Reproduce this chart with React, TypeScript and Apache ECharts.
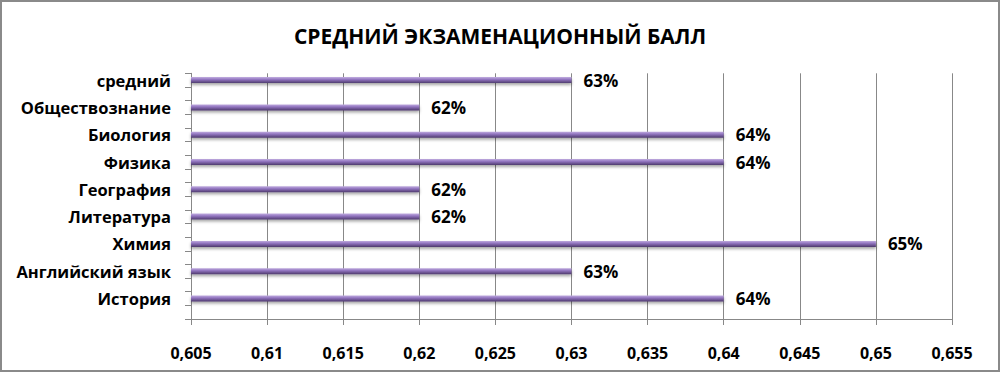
import React, { useEffect, useRef } from "react";
import * as echarts from "echarts";

const categories = [
  "средний",
  "Обществознание",
  "Биология",
  "Физика",
  "География",
  "Литература",
  "Химия",
  "Английский язык",
  "История",
];
const values = [0.63, 0.62, 0.64, 0.64, 0.62, 0.62, 0.65, 0.63, 0.64];
const axisMin = 0.605;
const axisMax = 0.655;
const axisStep = 0.005;
const titleText = "СРЕДНИЙ ЭКЗАМЕНАЦИОННЫЙ БАЛЛ";

const FONT = "'Open Sans', 'Liberation Sans', sans-serif";

export default function App() {
  const ref = useRef<HTMLDivElement>(null);
  useEffect(() => {
    if (!ref.current) return;
    const chart = echarts.init(ref.current, undefined, { renderer: "svg" });
    const fmt = (v: number) => v.toFixed(3).replace(/0+$/, "").replace(".", ",");
    chart.setOption({
      animation: false,
      backgroundColor: "#ffffff",
      title: {
        text: titleText,
        left: "center",
        top: 18,
        textStyle: { fontFamily: FONT, fontSize: 21, fontWeight: "bold", color: "#000" },
      },
      grid: [
        { left: 189, right: 46, top: 71.3, bottom: 51 },
        { left: 189, right: 46, top: 64.45, bottom: 57.85 },
      ],
      xAxis: [
        {
          type: "value",
          gridIndex: 0,
          min: axisMin,
          max: axisMax,
          interval: axisStep,
          axisLine: { show: true, lineStyle: { color: "#888", width: 1 } },
          axisTick: { show: true, length: 6, lineStyle: { color: "#888" } },
          splitLine: { show: true, lineStyle: { color: "#888", width: 1 } },
          axisLabel: {
            margin: 26,
            fontFamily: FONT,
            fontSize: 16,
            fontWeight: "bold",
            color: "#000",
            formatter: fmt,
          },
        },
        {
          type: "value",
          gridIndex: 1,
          min: axisMin,
          max: axisMax,
          interval: axisStep,
          show: false,
        },
      ],
      yAxis: [
        {
          type: "value",
          gridIndex: 0,
          min: 0,
          max: categories.length * 2,
          interval: 1,
          axisLine: { show: true, lineStyle: { color: "#888", width: 1 } },
          axisTick: { show: true, length: 6, lineStyle: { color: "#888" } },
          axisLabel: { show: false },
          splitLine: { show: false },
        },
        {
          type: "category",
          gridIndex: 1,
          data: categories,
          inverse: true,
          axisLine: { show: false },
          axisTick: { show: false },
          axisLabel: {
            margin: 20,
            fontFamily: FONT,
            fontSize: 16.5,
            fontWeight: "bold",
            color: "#000",
          },
        },
      ],
      series: [
        {
          type: "bar",
          xAxisIndex: 1,
          yAxisIndex: 1,
          data: values,
          barWidth: 6,
          itemStyle: {
            color: new echarts.graphic.LinearGradient(0, 0, 0, 1, [
              { offset: 0, color: "#c0acdf" },
              { offset: 0.4, color: "#9275c0" },
              { offset: 1, color: "#4e3a6d" },
            ]),
            shadowColor: "rgba(0,0,0,0.35)",
            shadowBlur: 3,
            shadowOffsetY: 2,
          },
          label: {
            show: true,
            position: "right",
            distance: 12,
            fontFamily: FONT,
            fontSize: 17,
            fontWeight: "bold",
            color: "#000",
            formatter: (p: any) => Math.round(p.value * 100) + "%",
          },
        },
      ],
    });
    return () => chart.dispose();
  }, []);
  return (
    <div
      style={{
        position: "absolute",
        left: 0,
        top: 0,
        width: 1000,
        height: 372,
        boxSizing: "border-box",
        border: "2px solid #8a8a8a",
        background: "#fff",
      }}
    >
      <div ref={ref} style={{ width: 996, height: 368 }} />
    </div>
  );
}
